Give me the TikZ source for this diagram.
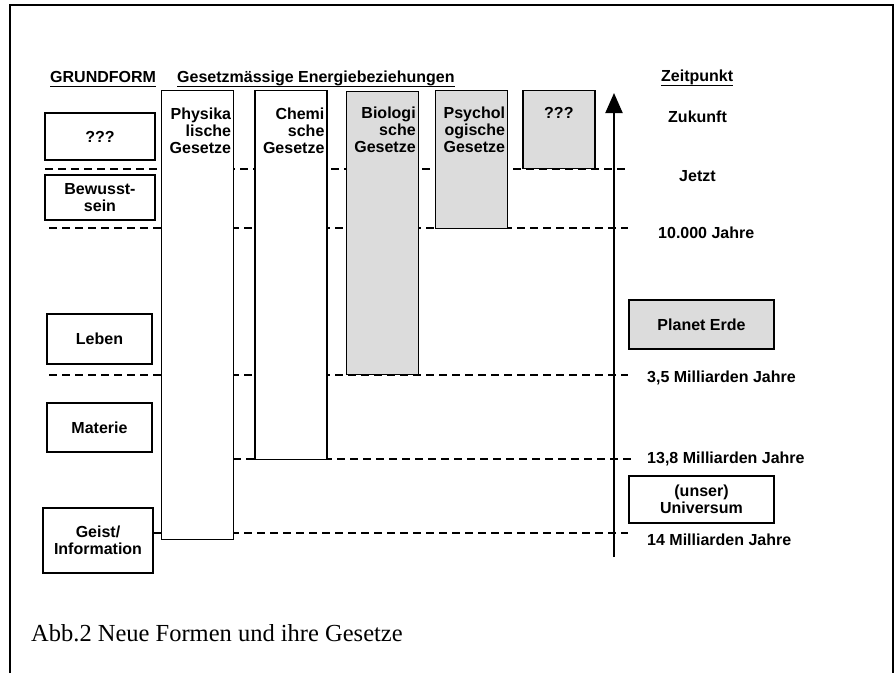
\documentclass[tikz,border=0pt]{standalone}
\usepackage{fontspec}
\setmainfont{Liberation Serif}
\setsansfont{Liberation Sans}
\usetikzlibrary{positioning}
\usetikzlibrary{arrows.meta}
\definecolor{lawGrey}{HTML}{DCDCDC}
\newcommand{\lbl}{\sffamily\bfseries\fontsize{16}{17}\selectfont}

\begin{document}
\begin{tikzpicture}[x=1pt,y=-1pt,>={Triangle[width=17pt,length=20pt]},every node/.append style={align=center},
  form/.style={draw, line width=1.3pt, font=\lbl, inner sep=0pt},
  law/.style={draw, line width=1.3pt, fill=white, anchor=north west, minimum width=72pt, inner sep=0pt},
  lawtext/.style={font=\lbl, align=right, inner sep=0pt},
  timelabel/.style={font=\lbl, anchor=west, inner sep=0pt},
  heading/.style={font=\lbl, anchor=base west, inner sep=0pt},
  sepline/.style={line width=1.4pt, dash pattern=on 8pt off 5pt}]
    \useasboundingbox (0,0) rectangle (896,673);
    \draw[line width=1.5pt] (10,673) -- (10,5) -- (893,5) -- (893,673);
    % headings
    \node [heading] (grund) at (50,82) {GRUNDFORM};
    \node [heading] (energie) at (177,82) {Gesetzmässige Energiebeziehungen};
    \node [heading] (zeit) at (661,81) {Zeitpunkt};
    \foreach \h in {grund,energie,zeit}
        \draw[line width=1.2pt] ([yshift=-4.5pt]\h.base west) -- ([yshift=-4.5pt]\h.base east);
    % time marks
    \coordinate (j0) at (45,169);  \coordinate (j1) at (628,169);
    \coordinate (k0) at (49,228);  \coordinate (k1) at (628,228);
    \coordinate (m0) at (49,375);  \coordinate (m1) at (628,375);
    \coordinate (u0) at (233,459); \coordinate (u1) at (631,459);
    \coordinate (g0) at (153,533); \coordinate (g1) at (628,533);
    \draw[sepline] (j0) -- (j1);
    \draw[sepline] (k0) -- (k1);
    \draw[sepline] (m0) -- (m1);
    \draw[sepline] (u0) -- (u1);
    \draw[sepline] (g0) -- (g1);
    % forms
    \node [form, minimum width=110pt, minimum height=47pt] (unbek) at (100,136.5) {???};
    \node [form, minimum width=110pt, minimum height=45pt] (bewusst) at (100,197.5) {Bewusst-\\sein};
    \node [form, minimum width=105pt, minimum height=50pt] (leben) at (99.5,339) {Leben};
    \node [form, minimum width=105pt, minimum height=49pt] (materie) at (99.5,427.5) {Materie};
    \node [form, minimum width=110pt, minimum height=65pt] (geist) at (98,540.5) {Geist/\\Information};
    % laws
    \node [law, minimum height=449pt] (phys) at (161,90) {};
    \node [law, minimum height=369pt, right=20pt of phys.north east, anchor=north west] (chem) {};
    \node [law, minimum height=283pt, fill=lawGrey, right=18pt of chem.north east, anchor=north west, yshift=-1pt] (bio) {};
    \node [law, minimum height=138pt, fill=lawGrey, right=16pt of bio.north east, anchor=north west, yshift=1pt] (psych) {};
    \node [law, minimum height=78pt, fill=lawGrey, right=14pt of psych.north east, anchor=north west] (neu) {};
    \node [lawtext, below left=18pt and 3pt of phys.north east] (physT) {Physika\\lische\\Gesetze};
    \node [lawtext, below left=18pt and 3pt of chem.north east] (chemT) {Chemi\\sche\\Gesetze};
    \node [lawtext, below left=16pt and 3pt of bio.north east] (bioT) {Biologi\\sche\\Gesetze};
    \node [lawtext, below left=17pt and 3pt of psych.north east] (psychT) {Psychol\\ogische\\Gesetze};
    \node [lawtext, below=17pt of neu.north] (neuT) {???};
    % time axis
    \coordinate (tail) at (614,557);
    \coordinate (head) at (614,93);
    \draw[->, line width=2pt] (tail) -- (head);
    \node [timelabel] (zukunft) at (668,117) {Zukunft};
    \node [timelabel] (jetzt) at (679,176) {Jetzt};
    \node [timelabel] (t1) at (658,233) {10.000 Jahre};
    \node [form, fill=lawGrey, minimum width=145pt, minimum height=49pt] (erde) at (701.5,324.5) {Planet Erde};
    \node [timelabel] (t2) at (647,378) {3,5 Milliarden Jahre};
    \node [timelabel] (t3) at (647,459) {13,8 Milliarden Jahre};
    \node [form, minimum width=145pt, minimum height=47pt] (univ) at (701.5,499.5) {(unser)\\Universum};
    \node [timelabel] (t4) at (647,540) {14 Milliarden Jahre};
    % caption
    \node [anchor=west, inner sep=0pt, font=\fontsize{24.5}{28}\selectfont] (caption) at (31,633) {Abb.2 Neue Formen und ihre Gesetze};
\end{tikzpicture}
\end{document}
